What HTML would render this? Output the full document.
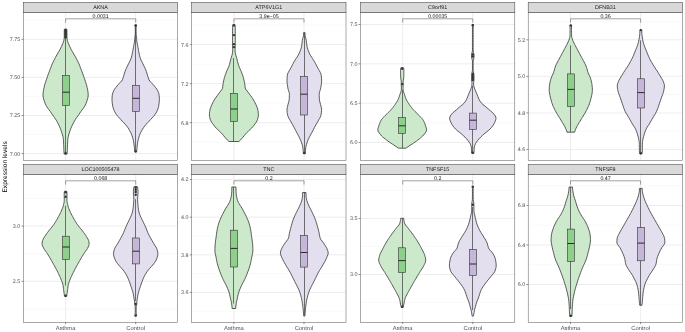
<!DOCTYPE html>
<html><head><meta charset="utf-8"><style>
html,body{margin:0;padding:0;background:#fff;}
svg text{font-family:"Liberation Sans", sans-serif;text-rendering:geometricPrecision;}
svg{will-change:transform;}
</style></head><body>
<svg width="685" height="332" viewBox="0 0 685 332" style="display:block">
<rect width="685" height="332" fill="#fff"/>
<line x1="23.3" x2="177.7" y1="153.6" y2="153.6" stroke="#EBEBEB" stroke-width="0.9"/>
<line x1="23.3" x2="177.7" y1="134.55" y2="134.55" stroke="#F2F2F2" stroke-width="0.5"/>
<line x1="23.3" x2="177.7" y1="115.5" y2="115.5" stroke="#EBEBEB" stroke-width="0.9"/>
<line x1="23.3" x2="177.7" y1="96.45" y2="96.45" stroke="#F2F2F2" stroke-width="0.5"/>
<line x1="23.3" x2="177.7" y1="77.4" y2="77.4" stroke="#EBEBEB" stroke-width="0.9"/>
<line x1="23.3" x2="177.7" y1="58.35" y2="58.35" stroke="#F2F2F2" stroke-width="0.5"/>
<line x1="23.3" x2="177.7" y1="39.3" y2="39.3" stroke="#EBEBEB" stroke-width="0.9"/>
<line x1="23.3" x2="177.7" y1="20.25" y2="20.25" stroke="#F2F2F2" stroke-width="0.5"/>
<line x1="65.6" x2="65.6" y1="12.3" y2="160.3" stroke="#EBEBEB" stroke-width="0.9"/>
<line x1="135.7" x2="135.7" y1="12.3" y2="160.3" stroke="#EBEBEB" stroke-width="0.9"/>
<path d="M66.9,29.2 L66.93,30.78 L66.95,32.36 L66.95,33.94 L66.95,35.52 L66.95,37.1 L67.04,38.68 L67.28,40.26 L67.76,41.84 L68.4,43.42 L69.06,45 L69.76,46.58 L70.52,48.16 L71.32,49.74 L72.22,51.32 L73.18,52.9 L74.1,54.48 L74.97,56.06 L75.83,57.64 L76.66,59.22 L77.49,60.79 L78.29,62.37 L79.02,63.95 L79.65,65.53 L80.22,67.11 L80.8,68.69 L81.41,70.27 L82.04,71.85 L82.64,73.43 L83.21,75.01 L83.76,76.59 L84.29,78.17 L84.82,79.75 L85.36,81.33 L85.91,82.91 L86.41,84.49 L86.82,86.07 L87.16,87.65 L87.5,89.23 L87.8,90.81 L88.04,92.39 L88.18,93.97 L88.18,95.55 L87.99,97.13 L87.64,98.71 L87.17,100.29 L86.62,101.87 L86.03,103.45 L85.36,105.03 L84.45,106.61 L83.37,108.19 L82.2,109.77 L81.04,111.35 L79.95,112.93 L78.87,114.51 L77.75,116.09 L76.64,117.67 L75.57,119.25 L74.59,120.83 L73.72,122.41 L72.91,123.98 L72.14,125.56 L71.42,127.14 L70.77,128.72 L70.2,130.3 L69.67,131.88 L69.15,133.46 L68.67,135.04 L68.26,136.62 L67.95,138.2 L67.78,139.78 L67.68,141.36 L67.61,142.94 L67.55,144.52 L67.49,146.1 L67.43,147.68 L67.36,149.26 L67.27,150.84 L67.19,152.42 L67.1,154 L64.1,154 L64.01,152.42 L63.93,150.84 L63.84,149.26 L63.77,147.68 L63.71,146.1 L63.65,144.52 L63.59,142.94 L63.52,141.36 L63.42,139.78 L63.25,138.2 L62.94,136.62 L62.53,135.04 L62.05,133.46 L61.53,131.88 L61,130.3 L60.43,128.72 L59.78,127.14 L59.06,125.56 L58.29,123.98 L57.48,122.41 L56.61,120.83 L55.63,119.25 L54.56,117.67 L53.45,116.09 L52.33,114.51 L51.25,112.93 L50.16,111.35 L49,109.77 L47.83,108.19 L46.75,106.61 L45.84,105.03 L45.17,103.45 L44.58,101.87 L44.03,100.29 L43.56,98.71 L43.21,97.13 L43.02,95.55 L43.02,93.97 L43.16,92.39 L43.4,90.81 L43.7,89.23 L44.04,87.65 L44.38,86.07 L44.79,84.49 L45.29,82.91 L45.84,81.33 L46.38,79.75 L46.91,78.17 L47.44,76.59 L47.99,75.01 L48.56,73.43 L49.16,71.85 L49.79,70.27 L50.4,68.69 L50.98,67.11 L51.55,65.53 L52.18,63.95 L52.91,62.37 L53.71,60.79 L54.54,59.22 L55.37,57.64 L56.23,56.06 L57.1,54.48 L58.02,52.9 L58.98,51.32 L59.88,49.74 L60.68,48.16 L61.44,46.58 L62.14,45 L62.8,43.42 L63.44,41.84 L63.92,40.26 L64.16,38.68 L64.25,37.1 L64.25,35.52 L64.25,33.94 L64.25,32.36 L64.27,30.78 L64.3,29.2 Z" fill="#CCE9CB" stroke="#333333" stroke-width="0.8"/>
<line x1="65.5" x2="65.5" y1="29.5" y2="152" stroke="#444" stroke-width="0.75"/>
<rect x="62.5" y="75.5" width="7" height="30.1" fill="#8ED08B" stroke="#333333" stroke-width="0.6"/>
<line x1="62.5" x2="69.5" y1="92.2" y2="92.2" stroke="#222" stroke-width="0.95"/>
<circle cx="65.6" cy="30" r="1.2" fill="#333"/>
<circle cx="65.6" cy="31.2" r="1.2" fill="#333"/>
<circle cx="65.6" cy="32.4" r="1.2" fill="#333"/>
<circle cx="65.6" cy="33.6" r="1.2" fill="#333"/>
<circle cx="65.6" cy="34.8" r="1.2" fill="#333"/>
<circle cx="65.6" cy="36" r="1.2" fill="#333"/>
<circle cx="65.6" cy="37.2" r="1.2" fill="#333"/>
<circle cx="65.6" cy="153.2" r="1.2" fill="#333"/>
<path d="M136.5,25 L136.13,26.6 L136.1,28.2 L136.11,29.8 L136.12,31.41 L136.14,33.01 L136.18,34.61 L136.38,36.21 L136.59,37.81 L136.67,39.41 L136.8,41.01 L137.06,42.61 L137.38,44.22 L137.67,45.82 L137.96,47.42 L138.25,49.02 L138.56,50.62 L138.88,52.22 L139.19,53.82 L139.53,55.42 L139.94,57.03 L140.45,58.63 L141.14,60.23 L141.93,61.83 L142.74,63.43 L143.49,65.03 L144.26,66.63 L145.04,68.23 L145.76,69.84 L146.38,71.44 L146.88,73.04 L147.32,74.64 L147.76,76.24 L148.28,77.84 L148.9,79.44 L149.77,81.04 L151.34,82.65 L152.87,84.25 L154.26,85.85 L155.54,87.45 L156.75,89.05 L157.66,90.65 L158.36,92.25 L158.89,93.85 L159.15,95.46 L159.29,97.06 L159.38,98.66 L159.39,100.26 L159.26,101.86 L159.07,103.46 L158.84,105.06 L158.53,106.66 L158.13,108.27 L157.56,109.87 L156.83,111.47 L155.97,113.07 L154.92,114.67 L153.6,116.27 L152.15,117.87 L150.68,119.47 L149.22,121.08 L147.67,122.68 L146.16,124.28 L144.82,125.88 L143.62,127.48 L142.59,129.08 L141.68,130.68 L140.83,132.28 L140.08,133.89 L139.44,135.49 L138.93,137.09 L138.48,138.69 L138.08,140.29 L137.75,141.89 L137.49,143.49 L137.29,145.09 L137.12,146.7 L136.97,148.3 L136.83,149.9 L136.7,151.5 L134.7,151.5 L134.57,149.9 L134.43,148.3 L134.28,146.7 L134.11,145.09 L133.91,143.49 L133.65,141.89 L133.32,140.29 L132.92,138.69 L132.47,137.09 L131.96,135.49 L131.32,133.89 L130.57,132.28 L129.72,130.68 L128.81,129.08 L127.78,127.48 L126.58,125.88 L125.24,124.28 L123.73,122.68 L122.18,121.08 L120.72,119.47 L119.25,117.87 L117.8,116.27 L116.48,114.67 L115.43,113.07 L114.57,111.47 L113.84,109.87 L113.27,108.27 L112.87,106.66 L112.56,105.06 L112.33,103.46 L112.14,101.86 L112.01,100.26 L112.02,98.66 L112.11,97.06 L112.25,95.46 L112.51,93.85 L113.04,92.25 L113.74,90.65 L114.65,89.05 L115.86,87.45 L117.14,85.85 L118.53,84.25 L120.06,82.65 L121.63,81.04 L122.5,79.44 L123.12,77.84 L123.64,76.24 L124.08,74.64 L124.52,73.04 L125.02,71.44 L125.64,69.84 L126.36,68.23 L127.14,66.63 L127.91,65.03 L128.66,63.43 L129.47,61.83 L130.26,60.23 L130.95,58.63 L131.46,57.03 L131.87,55.42 L132.21,53.82 L132.52,52.22 L132.84,50.62 L133.15,49.02 L133.44,47.42 L133.73,45.82 L134.02,44.22 L134.34,42.61 L134.6,41.01 L134.73,39.41 L134.81,37.81 L135.02,36.21 L135.22,34.61 L135.26,33.01 L135.28,31.41 L135.29,29.8 L135.3,28.2 L135.27,26.6 L134.9,25 Z" fill="#E3DFEE" stroke="#333333" stroke-width="0.8"/>
<line x1="135.5" x2="135.5" y1="25" y2="151" stroke="#444" stroke-width="0.75"/>
<rect x="132.5" y="85.4" width="7" height="26.2" fill="#C5B6DA" stroke="#333333" stroke-width="0.6"/>
<line x1="132.5" x2="139.5" y1="98.3" y2="98.3" stroke="#222" stroke-width="0.95"/>
<circle cx="135.7" cy="25.5" r="1.2" fill="#333"/>
<circle cx="135.7" cy="151.5" r="1.2" fill="#333"/>
<rect x="23.3" y="12.3" width="154.4" height="148" fill="none" stroke="#555" stroke-width="0.5"/>
<rect x="23.3" y="2.5" width="154.4" height="9.8" fill="#D9D9D9" stroke="#444" stroke-width="0.55"/>
<text x="100.5" y="8.95" font-size="5.4" fill="#1A1A1A" text-anchor="middle">AKNA</text>
<line x1="21.5" x2="23.3" y1="153.6" y2="153.6" stroke="#333" stroke-width="0.55"/>
<text x="20.3" y="155.55" font-size="5.4" fill="#4D4D4D" text-anchor="end">7.00</text>
<line x1="21.5" x2="23.3" y1="115.5" y2="115.5" stroke="#333" stroke-width="0.55"/>
<text x="20.3" y="117.45" font-size="5.4" fill="#4D4D4D" text-anchor="end">7.25</text>
<line x1="21.5" x2="23.3" y1="77.4" y2="77.4" stroke="#333" stroke-width="0.55"/>
<text x="20.3" y="79.35" font-size="5.4" fill="#4D4D4D" text-anchor="end">7.50</text>
<line x1="21.5" x2="23.3" y1="39.3" y2="39.3" stroke="#333" stroke-width="0.55"/>
<text x="20.3" y="41.25" font-size="5.4" fill="#4D4D4D" text-anchor="end">7.75</text>
<path d="M65.6,22.6 V18.8 H135.7 V22.6" fill="none" stroke="#555" stroke-width="0.55"/>
<text x="100.65" y="17.7" font-size="5.3" fill="#111" text-anchor="middle">0.0031</text>
<line x1="191.6" x2="346" y1="142.1" y2="142.1" stroke="#F2F2F2" stroke-width="0.5"/>
<line x1="191.6" x2="346" y1="122.6" y2="122.6" stroke="#EBEBEB" stroke-width="0.9"/>
<line x1="191.6" x2="346" y1="103.1" y2="103.1" stroke="#F2F2F2" stroke-width="0.5"/>
<line x1="191.6" x2="346" y1="83.6" y2="83.6" stroke="#EBEBEB" stroke-width="0.9"/>
<line x1="191.6" x2="346" y1="64.1" y2="64.1" stroke="#F2F2F2" stroke-width="0.5"/>
<line x1="191.6" x2="346" y1="44.6" y2="44.6" stroke="#EBEBEB" stroke-width="0.9"/>
<line x1="191.6" x2="346" y1="25.1" y2="25.1" stroke="#F2F2F2" stroke-width="0.5"/>
<line x1="233.9" x2="233.9" y1="12.3" y2="160.3" stroke="#EBEBEB" stroke-width="0.9"/>
<line x1="304" x2="304" y1="12.3" y2="160.3" stroke="#EBEBEB" stroke-width="0.9"/>
<path d="M234.9,24.4 L235.11,25.88 L235.21,27.36 L235.25,28.85 L235.28,30.33 L235.3,31.81 L235.3,33.29 L235.3,34.78 L235.3,36.26 L235.3,37.74 L235.3,39.22 L235.3,40.71 L235.3,42.19 L235.3,43.67 L235.29,45.15 L235.23,46.63 L235.15,48.12 L235.1,49.6 L235.13,51.08 L235.24,52.56 L235.51,54.05 L235.92,55.53 L236.38,57.01 L236.82,58.49 L237.2,59.97 L237.56,61.46 L237.93,62.94 L238.34,64.42 L238.8,65.9 L239.39,67.39 L240.05,68.87 L240.74,70.35 L241.38,71.83 L241.94,73.32 L242.47,74.8 L242.98,76.28 L243.43,77.76 L243.81,79.24 L244.14,80.73 L244.43,82.21 L244.69,83.69 L244.91,85.17 L245.07,86.66 L245.23,88.14 L246.01,89.62 L247.22,91.1 L248.32,92.58 L249.45,94.07 L250.55,95.55 L251.62,97.03 L252.62,98.51 L253.52,100 L254.36,101.48 L255.14,102.96 L255.87,104.44 L256.53,105.93 L257.12,107.41 L257.62,108.89 L257.91,110.37 L258.14,111.85 L258.32,113.34 L258.4,114.82 L258.3,116.3 L257.99,117.78 L257.59,119.27 L256.98,120.75 L256.15,122.23 L255.15,123.71 L254.06,125.19 L252.92,126.68 L251.56,128.16 L250.01,129.64 L248.4,131.12 L246.85,132.61 L245.5,134.09 L244.28,135.57 L243.1,137.05 L241.84,138.54 L240.43,140.02 L238.9,141.5 L228.9,141.5 L227.37,140.02 L225.96,138.54 L224.7,137.05 L223.52,135.57 L222.3,134.09 L220.95,132.61 L219.4,131.12 L217.79,129.64 L216.24,128.16 L214.88,126.68 L213.74,125.19 L212.65,123.71 L211.65,122.23 L210.82,120.75 L210.21,119.27 L209.81,117.78 L209.5,116.3 L209.4,114.82 L209.48,113.34 L209.66,111.85 L209.89,110.37 L210.18,108.89 L210.68,107.41 L211.27,105.93 L211.93,104.44 L212.66,102.96 L213.44,101.48 L214.28,100 L215.18,98.51 L216.18,97.03 L217.25,95.55 L218.35,94.07 L219.48,92.58 L220.58,91.1 L221.79,89.62 L222.57,88.14 L222.73,86.66 L222.89,85.17 L223.11,83.69 L223.37,82.21 L223.66,80.73 L223.99,79.24 L224.37,77.76 L224.82,76.28 L225.33,74.8 L225.86,73.32 L226.42,71.83 L227.06,70.35 L227.75,68.87 L228.41,67.39 L229,65.9 L229.46,64.42 L229.87,62.94 L230.24,61.46 L230.6,59.97 L230.98,58.49 L231.42,57.01 L231.88,55.53 L232.29,54.05 L232.56,52.56 L232.67,51.08 L232.7,49.6 L232.65,48.12 L232.57,46.63 L232.51,45.15 L232.5,43.67 L232.5,42.19 L232.5,40.71 L232.5,39.22 L232.5,37.74 L232.5,36.26 L232.5,34.78 L232.5,33.29 L232.5,31.81 L232.52,30.33 L232.55,28.85 L232.59,27.36 L232.69,25.88 L232.9,24.4 Z" fill="#CCE9CB" stroke="#333333" stroke-width="0.8"/>
<line x1="233.5" x2="233.5" y1="58" y2="141.5" stroke="#444" stroke-width="0.75"/>
<rect x="230.5" y="93.3" width="7" height="28.3" fill="#8ED08B" stroke="#333333" stroke-width="0.6"/>
<line x1="230.5" x2="237.5" y1="109" y2="109" stroke="#222" stroke-width="0.95"/>
<circle cx="233.9" cy="25.4" r="1.2" fill="#333"/>
<circle cx="233.9" cy="35.1" r="1.2" fill="#333"/>
<circle cx="233.9" cy="44.1" r="1.2" fill="#333"/>
<circle cx="233.9" cy="47.1" r="1.2" fill="#333"/>
<path d="M305,32.6 L305.03,34.13 L305.11,35.66 L305.44,37.19 L305.92,38.73 L306.23,40.26 L306.43,41.79 L306.61,43.32 L306.8,44.85 L307.04,46.38 L307.39,47.92 L307.86,49.45 L308.44,50.98 L309.08,52.51 L309.77,54.04 L310.59,55.57 L311.55,57.11 L312.58,58.64 L313.58,60.17 L314.48,61.7 L315.32,63.23 L316.14,64.76 L316.93,66.3 L317.71,67.83 L318.52,69.36 L319.44,70.89 L320.31,72.42 L320.96,73.95 L321.26,75.49 L321.43,77.02 L321.54,78.55 L321.6,80.08 L321.57,81.61 L321.44,83.14 L321.25,84.68 L321.01,86.21 L320.75,87.74 L320.45,89.27 L319.96,90.8 L319.46,92.33 L319.2,93.87 L319.22,95.4 L319.27,96.93 L319.34,98.46 L319.46,99.99 L319.75,101.52 L320.17,103.06 L320.62,104.59 L320.98,106.12 L321.3,107.65 L321.55,109.18 L321.58,110.71 L321.45,112.25 L321.22,113.78 L320.92,115.31 L320.42,116.84 L319.61,118.37 L318.7,119.9 L317.86,121.44 L316.99,122.97 L316.11,124.5 L315.25,126.03 L314.43,127.56 L313.64,129.09 L312.86,130.63 L312.06,132.16 L311.21,133.69 L310.36,135.22 L309.57,136.75 L308.84,138.28 L308.14,139.82 L307.51,141.35 L306.98,142.88 L306.49,144.41 L306.06,145.94 L305.76,147.47 L305.58,149.01 L305.44,150.54 L305.34,152.07 L305.3,153.6 L303.3,153.6 L303.26,152.07 L303.16,150.54 L303.02,149.01 L302.84,147.47 L302.54,145.94 L302.11,144.41 L301.62,142.88 L301.09,141.35 L300.46,139.82 L299.76,138.28 L299.03,136.75 L298.24,135.22 L297.39,133.69 L296.54,132.16 L295.74,130.63 L294.96,129.09 L294.17,127.56 L293.35,126.03 L292.49,124.5 L291.61,122.97 L290.74,121.44 L289.9,119.9 L288.99,118.37 L288.18,116.84 L287.68,115.31 L287.38,113.78 L287.15,112.25 L287.02,110.71 L287.05,109.18 L287.3,107.65 L287.62,106.12 L287.98,104.59 L288.43,103.06 L288.85,101.52 L289.14,99.99 L289.26,98.46 L289.33,96.93 L289.38,95.4 L289.4,93.87 L289.14,92.33 L288.64,90.8 L288.15,89.27 L287.85,87.74 L287.59,86.21 L287.35,84.68 L287.16,83.14 L287.03,81.61 L287,80.08 L287.06,78.55 L287.17,77.02 L287.34,75.49 L287.64,73.95 L288.29,72.42 L289.16,70.89 L290.08,69.36 L290.89,67.83 L291.67,66.3 L292.46,64.76 L293.28,63.23 L294.12,61.7 L295.02,60.17 L296.02,58.64 L297.05,57.11 L298.01,55.57 L298.83,54.04 L299.52,52.51 L300.16,50.98 L300.74,49.45 L301.21,47.92 L301.56,46.38 L301.8,44.85 L301.99,43.32 L302.17,41.79 L302.37,40.26 L302.68,38.73 L303.16,37.19 L303.49,35.66 L303.57,34.13 L303.6,32.6 Z" fill="#E3DFEE" stroke="#333333" stroke-width="0.8"/>
<line x1="304.5" x2="304.5" y1="33" y2="152" stroke="#444" stroke-width="0.75"/>
<rect x="300.5" y="76.4" width="7" height="38.6" fill="#C5B6DA" stroke="#333333" stroke-width="0.6"/>
<line x1="300.5" x2="307.5" y1="94.2" y2="94.2" stroke="#222" stroke-width="0.95"/>
<circle cx="304.3" cy="153" r="1.2" fill="#333"/>
<rect x="191.6" y="12.3" width="154.4" height="148" fill="none" stroke="#555" stroke-width="0.5"/>
<rect x="191.6" y="2.5" width="154.4" height="9.8" fill="#D9D9D9" stroke="#444" stroke-width="0.55"/>
<text x="268.8" y="8.95" font-size="5.4" fill="#1A1A1A" text-anchor="middle">ATP6V1G1</text>
<line x1="189.8" x2="191.6" y1="122.6" y2="122.6" stroke="#333" stroke-width="0.55"/>
<text x="188.6" y="124.55" font-size="5.4" fill="#4D4D4D" text-anchor="end">6.8</text>
<line x1="189.8" x2="191.6" y1="83.6" y2="83.6" stroke="#333" stroke-width="0.55"/>
<text x="188.6" y="85.55" font-size="5.4" fill="#4D4D4D" text-anchor="end">7.2</text>
<line x1="189.8" x2="191.6" y1="44.6" y2="44.6" stroke="#333" stroke-width="0.55"/>
<text x="188.6" y="46.55" font-size="5.4" fill="#4D4D4D" text-anchor="end">7.6</text>
<path d="M233.9,22.6 V18.8 H304 V22.6" fill="none" stroke="#555" stroke-width="0.55"/>
<text x="268.95" y="17.7" font-size="5.3" fill="#111" text-anchor="middle">3.9e−05</text>
<line x1="360.4" x2="514.8" y1="142.5" y2="142.5" stroke="#EBEBEB" stroke-width="0.9"/>
<line x1="360.4" x2="514.8" y1="122.84" y2="122.84" stroke="#F2F2F2" stroke-width="0.5"/>
<line x1="360.4" x2="514.8" y1="103.17" y2="103.17" stroke="#EBEBEB" stroke-width="0.9"/>
<line x1="360.4" x2="514.8" y1="83.5" y2="83.5" stroke="#F2F2F2" stroke-width="0.5"/>
<line x1="360.4" x2="514.8" y1="63.84" y2="63.84" stroke="#EBEBEB" stroke-width="0.9"/>
<line x1="360.4" x2="514.8" y1="44.17" y2="44.17" stroke="#F2F2F2" stroke-width="0.5"/>
<line x1="360.4" x2="514.8" y1="24.5" y2="24.5" stroke="#EBEBEB" stroke-width="0.9"/>
<line x1="402.7" x2="402.7" y1="12.3" y2="160.3" stroke="#EBEBEB" stroke-width="0.9"/>
<line x1="472.8" x2="472.8" y1="12.3" y2="160.3" stroke="#EBEBEB" stroke-width="0.9"/>
<path d="M403.5,67.7 L403.76,68.72 L403.85,69.74 L403.85,70.76 L403.85,71.78 L403.85,72.79 L403.85,73.81 L403.85,74.83 L403.83,75.85 L403.76,76.87 L403.67,77.89 L403.56,78.91 L403.34,79.93 L403.14,80.95 L403.11,81.97 L403.15,82.98 L403.19,84 L403.19,85.02 L403.12,86.04 L403.04,87.06 L403,88.08 L403.04,89.1 L403.11,90.12 L403.29,91.14 L403.59,92.16 L403.96,93.17 L404.36,94.19 L404.74,95.21 L405.06,96.23 L405.37,97.25 L405.72,98.27 L406.13,99.29 L406.64,100.31 L407.24,101.33 L407.88,102.35 L408.53,103.36 L409.21,104.38 L409.94,105.4 L410.69,106.42 L411.47,107.44 L412.27,108.46 L413.13,109.48 L414.05,110.5 L415.06,111.52 L416.12,112.54 L417.15,113.55 L418.19,114.57 L419.23,115.59 L420.24,116.61 L421.2,117.63 L422.14,118.65 L422.92,119.67 L423.5,120.69 L424.01,121.71 L424.46,122.73 L424.87,123.74 L425.24,124.76 L425.57,125.78 L425.89,126.8 L426.23,127.82 L426.5,128.84 L426.6,129.86 L426.4,130.88 L425.92,131.9 L425.23,132.92 L424.43,133.93 L423.6,134.95 L422.73,135.97 L421.67,136.99 L420.46,138.01 L419.16,139.03 L417.82,140.05 L416.48,141.07 L415.06,142.09 L413.56,143.11 L412.01,144.12 L410.45,145.14 L408.91,146.16 L407.36,147.18 L405.8,148.2 L398.6,148.2 L397.04,147.18 L395.49,146.16 L393.95,145.14 L392.39,144.12 L390.84,143.11 L389.34,142.09 L387.92,141.07 L386.58,140.05 L385.24,139.03 L383.94,138.01 L382.73,136.99 L381.67,135.97 L380.8,134.95 L379.97,133.93 L379.17,132.92 L378.48,131.9 L378,130.88 L377.8,129.86 L377.9,128.84 L378.17,127.82 L378.51,126.8 L378.83,125.78 L379.16,124.76 L379.53,123.74 L379.94,122.73 L380.39,121.71 L380.9,120.69 L381.48,119.67 L382.26,118.65 L383.2,117.63 L384.16,116.61 L385.17,115.59 L386.21,114.57 L387.25,113.55 L388.28,112.54 L389.34,111.52 L390.35,110.5 L391.27,109.48 L392.13,108.46 L392.93,107.44 L393.71,106.42 L394.46,105.4 L395.19,104.38 L395.87,103.36 L396.52,102.35 L397.16,101.33 L397.76,100.31 L398.27,99.29 L398.68,98.27 L399.03,97.25 L399.34,96.23 L399.66,95.21 L400.04,94.19 L400.44,93.17 L400.81,92.16 L401.11,91.14 L401.29,90.12 L401.36,89.1 L401.4,88.08 L401.36,87.06 L401.28,86.04 L401.21,85.02 L401.21,84 L401.25,82.98 L401.29,81.97 L401.26,80.95 L401.06,79.93 L400.84,78.91 L400.73,77.89 L400.64,76.87 L400.57,75.85 L400.55,74.83 L400.55,73.81 L400.55,72.79 L400.55,71.78 L400.55,70.76 L400.55,69.74 L400.64,68.72 L400.9,67.7 Z" fill="#CCE9CB" stroke="#333333" stroke-width="0.8"/>
<line x1="402.5" x2="402.5" y1="90" y2="148" stroke="#444" stroke-width="0.75"/>
<rect x="398.5" y="117.5" width="7" height="15.9" fill="#8ED08B" stroke="#333333" stroke-width="0.6"/>
<line x1="398.5" x2="405.5" y1="125.8" y2="125.8" stroke="#222" stroke-width="0.95"/>
<circle cx="402.2" cy="68.8" r="1.2" fill="#333"/>
<circle cx="402.2" cy="84.1" r="1.2" fill="#333"/>
<path d="M473.4,24.6 L473.19,26.23 L473.15,27.86 L473.15,29.49 L473.15,31.13 L473.15,32.76 L473.15,34.39 L473.15,36.02 L473.15,37.65 L473.15,39.28 L473.15,40.92 L473.15,42.55 L473.15,44.18 L473.15,45.81 L473.15,47.44 L473.15,49.07 L473.15,50.71 L473.46,52.34 L473.92,53.97 L474.09,55.6 L474.02,57.23 L473.7,58.86 L473.15,60.5 L473.15,62.13 L473.15,63.76 L473.15,65.39 L473.15,67.02 L473.15,68.65 L473.15,70.29 L473.43,71.92 L473.78,73.55 L473.97,75.18 L474,76.81 L474,78.44 L474,80.08 L473.76,81.71 L473.6,83.34 L473.7,84.97 L473.91,86.6 L474.47,88.23 L475.09,89.87 L475.8,91.5 L476.49,93.13 L477.17,94.76 L477.84,96.39 L478.46,98.02 L479.18,99.66 L480.09,101.29 L481.25,102.92 L482.96,104.55 L485.07,106.18 L486.99,107.81 L488.84,109.45 L490.72,111.08 L492.69,112.71 L494.12,114.34 L495.26,115.97 L495.95,117.6 L495.88,119.24 L495.37,120.87 L494.63,122.5 L493.83,124.13 L492.8,125.76 L491.52,127.39 L490.08,129.03 L488.29,130.66 L486.2,132.29 L484.14,133.92 L482.34,135.55 L480.6,137.18 L479.02,138.82 L477.7,140.45 L476.48,142.08 L475.44,143.71 L474.76,145.34 L474.33,146.97 L474.17,148.61 L474.13,150.24 L474.03,151.87 L473.8,153.5 L471.8,153.5 L471.57,151.87 L471.47,150.24 L471.43,148.61 L471.27,146.97 L470.84,145.34 L470.16,143.71 L469.12,142.08 L467.9,140.45 L466.58,138.82 L465,137.18 L463.26,135.55 L461.46,133.92 L459.4,132.29 L457.31,130.66 L455.52,129.03 L454.08,127.39 L452.8,125.76 L451.77,124.13 L450.97,122.5 L450.23,120.87 L449.72,119.24 L449.65,117.6 L450.34,115.97 L451.48,114.34 L452.91,112.71 L454.88,111.08 L456.76,109.45 L458.61,107.81 L460.53,106.18 L462.64,104.55 L464.35,102.92 L465.51,101.29 L466.42,99.66 L467.14,98.02 L467.76,96.39 L468.43,94.76 L469.11,93.13 L469.8,91.5 L470.51,89.87 L471.13,88.23 L471.69,86.6 L471.9,84.97 L472,83.34 L471.84,81.71 L471.6,80.08 L471.6,78.44 L471.6,76.81 L471.63,75.18 L471.82,73.55 L472.17,71.92 L472.45,70.29 L472.45,68.65 L472.45,67.02 L472.45,65.39 L472.45,63.76 L472.45,62.13 L472.45,60.5 L471.9,58.86 L471.58,57.23 L471.51,55.6 L471.68,53.97 L472.14,52.34 L472.45,50.71 L472.45,49.07 L472.45,47.44 L472.45,45.81 L472.45,44.18 L472.45,42.55 L472.45,40.92 L472.45,39.28 L472.45,37.65 L472.45,36.02 L472.45,34.39 L472.45,32.76 L472.45,31.13 L472.45,29.49 L472.45,27.86 L472.41,26.23 L472.2,24.6 Z" fill="#E3DFEE" stroke="#333333" stroke-width="0.8"/>
<line x1="472.5" x2="472.5" y1="86" y2="153" stroke="#444" stroke-width="0.75"/>
<rect x="469.5" y="113.1" width="7" height="16.4" fill="#C5B6DA" stroke="#333333" stroke-width="0.6"/>
<line x1="469.5" x2="476.5" y1="120.2" y2="120.2" stroke="#222" stroke-width="0.95"/>
<circle cx="472.8" cy="25.2" r="1.2" fill="#333"/>
<circle cx="472.8" cy="54.5" r="1.2" fill="#333"/>
<circle cx="472.8" cy="56.5" r="1.2" fill="#333"/>
<circle cx="472.8" cy="74" r="1.2" fill="#333"/>
<circle cx="472.8" cy="76" r="1.2" fill="#333"/>
<circle cx="472.8" cy="78" r="1.2" fill="#333"/>
<circle cx="472.8" cy="80" r="1.2" fill="#333"/>
<circle cx="472.8" cy="152.6" r="1.2" fill="#333"/>
<rect x="360.4" y="12.3" width="154.4" height="148" fill="none" stroke="#555" stroke-width="0.5"/>
<rect x="360.4" y="2.5" width="154.4" height="9.8" fill="#D9D9D9" stroke="#444" stroke-width="0.55"/>
<text x="437.6" y="8.95" font-size="5.4" fill="#1A1A1A" text-anchor="middle">C9orf91</text>
<line x1="358.6" x2="360.4" y1="142.5" y2="142.5" stroke="#333" stroke-width="0.55"/>
<text x="357.4" y="144.45" font-size="5.4" fill="#4D4D4D" text-anchor="end">6.0</text>
<line x1="358.6" x2="360.4" y1="103.17" y2="103.17" stroke="#333" stroke-width="0.55"/>
<text x="357.4" y="105.12" font-size="5.4" fill="#4D4D4D" text-anchor="end">6.5</text>
<line x1="358.6" x2="360.4" y1="63.84" y2="63.84" stroke="#333" stroke-width="0.55"/>
<text x="357.4" y="65.78" font-size="5.4" fill="#4D4D4D" text-anchor="end">7.0</text>
<line x1="358.6" x2="360.4" y1="24.5" y2="24.5" stroke="#333" stroke-width="0.55"/>
<text x="357.4" y="26.45" font-size="5.4" fill="#4D4D4D" text-anchor="end">7.5</text>
<path d="M402.7,22.6 V18.8 H472.8 V22.6" fill="none" stroke="#555" stroke-width="0.55"/>
<text x="437.75" y="17.7" font-size="5.3" fill="#111" text-anchor="middle">0.00035</text>
<line x1="528.2" x2="682.6" y1="149.48" y2="149.48" stroke="#EBEBEB" stroke-width="0.9"/>
<line x1="528.2" x2="682.6" y1="131.2" y2="131.2" stroke="#F2F2F2" stroke-width="0.5"/>
<line x1="528.2" x2="682.6" y1="112.92" y2="112.92" stroke="#EBEBEB" stroke-width="0.9"/>
<line x1="528.2" x2="682.6" y1="94.64" y2="94.64" stroke="#F2F2F2" stroke-width="0.5"/>
<line x1="528.2" x2="682.6" y1="76.36" y2="76.36" stroke="#EBEBEB" stroke-width="0.9"/>
<line x1="528.2" x2="682.6" y1="58.08" y2="58.08" stroke="#F2F2F2" stroke-width="0.5"/>
<line x1="528.2" x2="682.6" y1="39.8" y2="39.8" stroke="#EBEBEB" stroke-width="0.9"/>
<line x1="528.2" x2="682.6" y1="21.52" y2="21.52" stroke="#F2F2F2" stroke-width="0.5"/>
<line x1="570.5" x2="570.5" y1="12.3" y2="160.3" stroke="#EBEBEB" stroke-width="0.9"/>
<line x1="640.6" x2="640.6" y1="12.3" y2="160.3" stroke="#EBEBEB" stroke-width="0.9"/>
<path d="M571.8,25.4 L571.6,26.75 L571.5,28.1 L571.5,29.46 L571.51,30.81 L571.53,32.16 L571.55,33.51 L571.57,34.86 L571.61,36.22 L571.84,37.57 L572.27,38.92 L572.76,40.27 L573.28,41.62 L573.93,42.97 L574.63,44.33 L575.34,45.68 L576.03,47.03 L576.74,48.38 L577.46,49.73 L578.19,51.09 L578.91,52.44 L579.65,53.79 L580.39,55.14 L581.14,56.49 L581.87,57.85 L582.59,59.2 L583.31,60.55 L584.04,61.9 L584.75,63.25 L585.42,64.61 L586,65.96 L586.49,67.31 L586.91,68.66 L587.3,70.01 L587.69,71.36 L588.13,72.72 L588.68,74.07 L589.31,75.42 L589.93,76.77 L590.44,78.12 L590.87,79.48 L591.26,80.83 L591.59,82.18 L591.82,83.53 L591.99,84.88 L592.16,86.24 L592.29,87.59 L592.37,88.94 L592.4,90.29 L592.32,91.64 L592.13,92.99 L591.88,94.35 L591.58,95.7 L591.29,97.05 L590.98,98.4 L590.63,99.75 L590.24,101.11 L589.82,102.46 L589.36,103.81 L588.86,105.16 L588.29,106.51 L587.68,107.87 L587.04,109.22 L586.36,110.57 L585.64,111.92 L584.86,113.27 L584.04,114.63 L583.21,115.98 L582.38,117.33 L581.56,118.68 L580.73,120.03 L579.89,121.38 L579.08,122.74 L578.25,124.09 L577.43,125.44 L576.7,126.79 L576.08,128.14 L575.52,129.5 L575.02,130.85 L574.6,132.2 L567,132.2 L566.58,130.85 L566.08,129.5 L565.52,128.14 L564.9,126.79 L564.17,125.44 L563.35,124.09 L562.52,122.74 L561.71,121.38 L560.87,120.03 L560.04,118.68 L559.22,117.33 L558.39,115.98 L557.56,114.63 L556.74,113.27 L555.96,111.92 L555.24,110.57 L554.56,109.22 L553.92,107.87 L553.31,106.51 L552.74,105.16 L552.24,103.81 L551.78,102.46 L551.36,101.11 L550.97,99.75 L550.62,98.4 L550.31,97.05 L550.02,95.7 L549.72,94.35 L549.47,92.99 L549.28,91.64 L549.2,90.29 L549.23,88.94 L549.31,87.59 L549.44,86.24 L549.61,84.88 L549.78,83.53 L550.01,82.18 L550.34,80.83 L550.73,79.48 L551.16,78.12 L551.67,76.77 L552.29,75.42 L552.92,74.07 L553.47,72.72 L553.91,71.36 L554.3,70.01 L554.69,68.66 L555.11,67.31 L555.6,65.96 L556.18,64.61 L556.85,63.25 L557.56,61.9 L558.29,60.55 L559.01,59.2 L559.73,57.85 L560.46,56.49 L561.21,55.14 L561.95,53.79 L562.69,52.44 L563.41,51.09 L564.14,49.73 L564.86,48.38 L565.57,47.03 L566.26,45.68 L566.97,44.33 L567.67,42.97 L568.32,41.62 L568.84,40.27 L569.33,38.92 L569.76,37.57 L569.99,36.22 L570.03,34.86 L570.05,33.51 L570.07,32.16 L570.09,30.81 L570.1,29.46 L570.1,28.1 L570,26.75 L569.8,25.4 Z" fill="#CCE9CB" stroke="#333333" stroke-width="0.8"/>
<line x1="570.5" x2="570.5" y1="45.3" y2="132" stroke="#444" stroke-width="0.75"/>
<rect x="567.5" y="73.9" width="7" height="32.5" fill="#8ED08B" stroke="#333333" stroke-width="0.6"/>
<line x1="567.5" x2="574.5" y1="89.4" y2="89.4" stroke="#222" stroke-width="0.95"/>
<circle cx="570.8" cy="25.4" r="1.2" fill="#333"/>
<path d="M641.85,30.1 L641.85,31.67 L641.85,33.23 L641.99,34.8 L642.19,36.36 L642.4,37.93 L642.66,39.49 L642.98,41.06 L643.39,42.63 L643.86,44.19 L644.37,45.76 L644.94,47.32 L645.57,48.89 L646.21,50.46 L646.83,52.02 L647.45,53.59 L648.08,55.15 L648.75,56.72 L649.48,58.28 L650.28,59.85 L651.13,61.42 L652.02,62.98 L652.94,64.55 L653.91,66.11 L654.94,67.68 L655.98,69.25 L657,70.81 L657.99,72.38 L658.96,73.94 L659.92,75.51 L660.86,77.07 L661.8,78.64 L662.71,80.21 L663.39,81.77 L663.93,83.34 L664.4,84.9 L664.41,86.47 L664.23,88.04 L663.97,89.6 L663.68,91.17 L663.25,92.73 L662.69,94.3 L662.09,95.86 L661.51,97.43 L660.98,99 L660.46,100.56 L659.93,102.13 L659.4,103.69 L658.85,105.26 L658.32,106.83 L657.77,108.39 L657.18,109.96 L656.5,111.52 L655.68,113.09 L654.74,114.65 L653.77,116.22 L652.82,117.79 L651.92,119.35 L651.04,120.92 L650.16,122.48 L649.24,124.05 L648.25,125.62 L647.16,127.18 L646.29,128.75 L645.6,130.31 L644.99,131.88 L644.46,133.44 L644,135.01 L643.6,136.58 L643.21,138.14 L642.86,139.71 L642.59,141.27 L642.45,142.84 L642.41,144.41 L642.38,145.97 L642.36,147.54 L642.33,149.1 L642.31,150.67 L642.26,152.23 L641.95,153.8 L639.75,153.8 L639.44,152.23 L639.39,150.67 L639.37,149.1 L639.34,147.54 L639.32,145.97 L639.29,144.41 L639.25,142.84 L639.11,141.27 L638.84,139.71 L638.49,138.14 L638.1,136.58 L637.7,135.01 L637.24,133.44 L636.71,131.88 L636.1,130.31 L635.41,128.75 L634.54,127.18 L633.45,125.62 L632.46,124.05 L631.54,122.48 L630.66,120.92 L629.78,119.35 L628.88,117.79 L627.93,116.22 L626.96,114.65 L626.02,113.09 L625.2,111.52 L624.52,109.96 L623.93,108.39 L623.38,106.83 L622.85,105.26 L622.3,103.69 L621.77,102.13 L621.24,100.56 L620.72,99 L620.19,97.43 L619.61,95.86 L619.01,94.3 L618.45,92.73 L618.02,91.17 L617.73,89.6 L617.47,88.04 L617.29,86.47 L617.3,84.9 L617.77,83.34 L618.31,81.77 L618.99,80.21 L619.9,78.64 L620.84,77.07 L621.78,75.51 L622.74,73.94 L623.71,72.38 L624.7,70.81 L625.72,69.25 L626.76,67.68 L627.79,66.11 L628.76,64.55 L629.68,62.98 L630.57,61.42 L631.42,59.85 L632.22,58.28 L632.95,56.72 L633.62,55.15 L634.25,53.59 L634.87,52.02 L635.49,50.46 L636.13,48.89 L636.76,47.32 L637.33,45.76 L637.84,44.19 L638.31,42.63 L638.72,41.06 L639.04,39.49 L639.3,37.93 L639.51,36.36 L639.71,34.8 L639.85,33.23 L639.85,31.67 L639.85,30.1 Z" fill="#E3DFEE" stroke="#333333" stroke-width="0.8"/>
<line x1="640.5" x2="640.5" y1="40.4" y2="152" stroke="#444" stroke-width="0.75"/>
<rect x="637.5" y="78.8" width="7" height="29.2" fill="#C5B6DA" stroke="#333333" stroke-width="0.6"/>
<line x1="637.5" x2="644.5" y1="92.6" y2="92.6" stroke="#222" stroke-width="0.95"/>
<circle cx="640.85" cy="30.1" r="1.2" fill="#333"/>
<circle cx="640.85" cy="153.3" r="1.2" fill="#333"/>
<rect x="528.2" y="12.3" width="154.4" height="148" fill="none" stroke="#555" stroke-width="0.5"/>
<rect x="528.2" y="2.5" width="154.4" height="9.8" fill="#D9D9D9" stroke="#444" stroke-width="0.55"/>
<text x="605.4" y="8.95" font-size="5.4" fill="#1A1A1A" text-anchor="middle">DFNB31</text>
<line x1="526.4" x2="528.2" y1="149.48" y2="149.48" stroke="#333" stroke-width="0.55"/>
<text x="525.2" y="151.43" font-size="5.4" fill="#4D4D4D" text-anchor="end">4.6</text>
<line x1="526.4" x2="528.2" y1="112.92" y2="112.92" stroke="#333" stroke-width="0.55"/>
<text x="525.2" y="114.87" font-size="5.4" fill="#4D4D4D" text-anchor="end">4.8</text>
<line x1="526.4" x2="528.2" y1="76.36" y2="76.36" stroke="#333" stroke-width="0.55"/>
<text x="525.2" y="78.31" font-size="5.4" fill="#4D4D4D" text-anchor="end">5.0</text>
<line x1="526.4" x2="528.2" y1="39.8" y2="39.8" stroke="#333" stroke-width="0.55"/>
<text x="525.2" y="41.75" font-size="5.4" fill="#4D4D4D" text-anchor="end">5.2</text>
<path d="M570.5,22.6 V18.8 H640.6 V22.6" fill="none" stroke="#555" stroke-width="0.55"/>
<text x="605.55" y="17.7" font-size="5.3" fill="#111" text-anchor="middle">0.36</text>
<line x1="23.3" x2="177.7" y1="308.9" y2="308.9" stroke="#F2F2F2" stroke-width="0.5"/>
<line x1="23.3" x2="177.7" y1="281.3" y2="281.3" stroke="#EBEBEB" stroke-width="0.9"/>
<line x1="23.3" x2="177.7" y1="253.7" y2="253.7" stroke="#F2F2F2" stroke-width="0.5"/>
<line x1="23.3" x2="177.7" y1="226.1" y2="226.1" stroke="#EBEBEB" stroke-width="0.9"/>
<line x1="23.3" x2="177.7" y1="198.5" y2="198.5" stroke="#F2F2F2" stroke-width="0.5"/>
<line x1="65.6" x2="65.6" y1="174.3" y2="322.3" stroke="#EBEBEB" stroke-width="0.9"/>
<line x1="135.7" x2="135.7" y1="174.3" y2="322.3" stroke="#EBEBEB" stroke-width="0.9"/>
<path d="M66.8,191.3 L66.99,192.63 L67,193.96 L67,195.29 L67,196.62 L66.98,197.95 L66.91,199.27 L66.92,200.6 L67.06,201.93 L67.31,203.26 L67.61,204.59 L67.93,205.92 L68.35,207.25 L68.86,208.58 L69.42,209.91 L69.99,211.24 L70.59,212.57 L71.24,213.89 L71.92,215.22 L72.63,216.55 L73.35,217.88 L74.09,219.21 L74.86,220.54 L75.66,221.87 L76.5,223.2 L77.39,224.53 L78.37,225.86 L79.45,227.19 L80.56,228.52 L81.65,229.84 L82.68,231.17 L83.66,232.5 L84.64,233.83 L85.58,235.16 L86.46,236.49 L87.25,237.82 L88.03,239.15 L88.67,240.48 L88.92,241.81 L89.07,243.14 L89.07,244.46 L88.7,245.79 L88.08,247.12 L87.43,248.45 L86.62,249.78 L85.67,251.11 L84.69,252.44 L83.79,253.77 L82.97,255.1 L82.16,256.43 L81.38,257.76 L80.6,259.08 L79.83,260.41 L79.07,261.74 L78.32,263.07 L77.57,264.4 L76.84,265.73 L76.12,267.06 L75.41,268.39 L74.71,269.72 L74.02,271.05 L73.34,272.38 L72.69,273.71 L72.06,275.03 L71.44,276.36 L70.83,277.69 L70.26,279.02 L69.73,280.35 L69.23,281.68 L68.76,283.01 L68.38,284.34 L68.13,285.67 L67.94,287 L67.78,288.33 L67.62,289.65 L67.44,290.98 L67.25,292.31 L67.05,293.64 L66.87,294.97 L66.7,296.3 L64.5,296.3 L64.33,294.97 L64.15,293.64 L63.95,292.31 L63.76,290.98 L63.58,289.65 L63.42,288.33 L63.26,287 L63.07,285.67 L62.82,284.34 L62.44,283.01 L61.97,281.68 L61.47,280.35 L60.94,279.02 L60.37,277.69 L59.76,276.36 L59.14,275.03 L58.51,273.71 L57.86,272.38 L57.18,271.05 L56.49,269.72 L55.79,268.39 L55.08,267.06 L54.36,265.73 L53.63,264.4 L52.88,263.07 L52.13,261.74 L51.37,260.41 L50.6,259.08 L49.82,257.76 L49.04,256.43 L48.23,255.1 L47.41,253.77 L46.51,252.44 L45.53,251.11 L44.58,249.78 L43.77,248.45 L43.12,247.12 L42.5,245.79 L42.13,244.46 L42.13,243.14 L42.28,241.81 L42.53,240.48 L43.17,239.15 L43.95,237.82 L44.74,236.49 L45.62,235.16 L46.56,233.83 L47.54,232.5 L48.52,231.17 L49.55,229.84 L50.64,228.52 L51.75,227.19 L52.83,225.86 L53.81,224.53 L54.7,223.2 L55.54,221.87 L56.34,220.54 L57.11,219.21 L57.85,217.88 L58.57,216.55 L59.28,215.22 L59.96,213.89 L60.61,212.57 L61.21,211.24 L61.78,209.91 L62.34,208.58 L62.85,207.25 L63.27,205.92 L63.59,204.59 L63.89,203.26 L64.14,201.93 L64.28,200.6 L64.29,199.27 L64.22,197.95 L64.2,196.62 L64.2,195.29 L64.2,193.96 L64.21,192.63 L64.4,191.3 Z" fill="#CCE9CB" stroke="#333333" stroke-width="0.8"/>
<line x1="65.5" x2="65.5" y1="205.8" y2="285.5" stroke="#444" stroke-width="0.75"/>
<rect x="62.5" y="236.2" width="7" height="23.2" fill="#8ED08B" stroke="#333333" stroke-width="0.6"/>
<line x1="62.5" x2="69.5" y1="247" y2="247" stroke="#222" stroke-width="0.95"/>
<circle cx="65.6" cy="192.2" r="1.2" fill="#333"/>
<circle cx="65.6" cy="196.8" r="1.2" fill="#333"/>
<circle cx="65.6" cy="295.8" r="1.2" fill="#333"/>
<path d="M137.2,186.5 L137.81,188.14 L137.94,189.77 L138,191.41 L137.98,193.04 L137.92,194.68 L137.76,196.31 L137.6,197.95 L137.6,199.58 L137.63,201.22 L137.75,202.85 L137.91,204.49 L138.07,206.13 L138.25,207.76 L138.47,209.4 L138.74,211.03 L139.16,212.67 L139.69,214.3 L140.31,215.94 L141.06,217.57 L141.87,219.21 L142.66,220.84 L143.44,222.48 L144.22,224.12 L144.99,225.75 L145.72,227.39 L146.4,229.02 L147.04,230.66 L147.69,232.29 L148.41,233.93 L149.23,235.56 L150.12,237.2 L151.04,238.83 L151.97,240.47 L152.89,242.11 L153.83,243.74 L154.84,245.38 L155.98,247.01 L156.78,248.65 L157.31,250.28 L157.71,251.92 L157.9,253.55 L157.77,255.19 L157.37,256.82 L156.81,258.46 L156.16,260.09 L155.19,261.73 L154.01,263.37 L152.77,265 L151.33,266.64 L149.77,268.27 L148.35,269.91 L147.15,271.54 L146.06,273.18 L145.07,274.81 L144.22,276.45 L143.46,278.08 L142.77,279.72 L142.13,281.36 L141.54,282.99 L140.99,284.63 L140.45,286.26 L139.89,287.9 L139.35,289.53 L138.85,291.17 L138.4,292.8 L138.01,294.44 L137.72,296.07 L137.49,297.71 L137.26,299.35 L136.93,300.98 L136.8,302.62 L136.77,304.25 L136.21,305.89 L136.18,307.52 L136.16,309.16 L136.15,310.79 L136.15,312.43 L136.25,314.06 L136.6,315.7 L134.8,315.7 L135.15,314.06 L135.25,312.43 L135.25,310.79 L135.24,309.16 L135.22,307.52 L135.19,305.89 L134.63,304.25 L134.6,302.62 L134.47,300.98 L134.14,299.35 L133.91,297.71 L133.68,296.07 L133.39,294.44 L133,292.8 L132.55,291.17 L132.05,289.53 L131.51,287.9 L130.95,286.26 L130.41,284.63 L129.86,282.99 L129.27,281.36 L128.63,279.72 L127.94,278.08 L127.18,276.45 L126.33,274.81 L125.34,273.18 L124.25,271.54 L123.05,269.91 L121.63,268.27 L120.07,266.64 L118.63,265 L117.39,263.37 L116.21,261.73 L115.24,260.09 L114.59,258.46 L114.03,256.82 L113.63,255.19 L113.5,253.55 L113.69,251.92 L114.09,250.28 L114.62,248.65 L115.42,247.01 L116.56,245.38 L117.57,243.74 L118.51,242.11 L119.43,240.47 L120.36,238.83 L121.28,237.2 L122.17,235.56 L122.99,233.93 L123.71,232.29 L124.36,230.66 L125,229.02 L125.68,227.39 L126.41,225.75 L127.18,224.12 L127.96,222.48 L128.74,220.84 L129.53,219.21 L130.34,217.57 L131.09,215.94 L131.71,214.3 L132.24,212.67 L132.66,211.03 L132.93,209.4 L133.15,207.76 L133.33,206.13 L133.49,204.49 L133.65,202.85 L133.77,201.22 L133.8,199.58 L133.8,197.95 L133.64,196.31 L133.48,194.68 L133.42,193.04 L133.4,191.41 L133.46,189.77 L133.59,188.14 L134.2,186.5 Z" fill="#E3DFEE" stroke="#333333" stroke-width="0.8"/>
<line x1="135.5" x2="135.5" y1="199.2" y2="301" stroke="#444" stroke-width="0.75"/>
<rect x="132.5" y="238" width="7" height="25.9" fill="#C5B6DA" stroke="#333333" stroke-width="0.6"/>
<line x1="132.5" x2="139.5" y1="251.2" y2="251.2" stroke="#222" stroke-width="0.95"/>
<circle cx="135.7" cy="187.8" r="1.2" fill="#333"/>
<circle cx="135.7" cy="189.8" r="1.2" fill="#333"/>
<circle cx="135.7" cy="192" r="1.2" fill="#333"/>
<circle cx="135.7" cy="194.7" r="1.2" fill="#333"/>
<circle cx="135.7" cy="304" r="1.2" fill="#333"/>
<circle cx="135.7" cy="315.6" r="1.2" fill="#333"/>
<rect x="23.3" y="174.3" width="154.4" height="148" fill="none" stroke="#555" stroke-width="0.5"/>
<rect x="23.3" y="164.5" width="154.4" height="9.8" fill="#D9D9D9" stroke="#444" stroke-width="0.55"/>
<text x="100.5" y="170.95" font-size="5.4" fill="#1A1A1A" text-anchor="middle">LOC100505478</text>
<line x1="21.5" x2="23.3" y1="281.3" y2="281.3" stroke="#333" stroke-width="0.55"/>
<text x="20.3" y="283.25" font-size="5.4" fill="#4D4D4D" text-anchor="end">2.5</text>
<line x1="21.5" x2="23.3" y1="226.1" y2="226.1" stroke="#333" stroke-width="0.55"/>
<text x="20.3" y="228.05" font-size="5.4" fill="#4D4D4D" text-anchor="end">3.0</text>
<path d="M65.6,184.6 V180.8 H135.7 V184.6" fill="none" stroke="#555" stroke-width="0.55"/>
<text x="100.65" y="179.7" font-size="5.3" fill="#111" text-anchor="middle">0.068</text>
<line x1="65.6" x2="65.6" y1="322.3" y2="324.1" stroke="#333" stroke-width="0.55"/>
<text x="65.6" y="329.5" font-size="5.8" fill="#4D4D4D" text-anchor="middle">Asthma</text>
<line x1="135.7" x2="135.7" y1="322.3" y2="324.1" stroke="#333" stroke-width="0.55"/>
<text x="135.7" y="329.5" font-size="5.8" fill="#4D4D4D" text-anchor="middle">Control</text>
<line x1="191.6" x2="346" y1="311.31" y2="311.31" stroke="#F2F2F2" stroke-width="0.5"/>
<line x1="191.6" x2="346" y1="292.48" y2="292.48" stroke="#EBEBEB" stroke-width="0.9"/>
<line x1="191.6" x2="346" y1="273.65" y2="273.65" stroke="#F2F2F2" stroke-width="0.5"/>
<line x1="191.6" x2="346" y1="254.82" y2="254.82" stroke="#EBEBEB" stroke-width="0.9"/>
<line x1="191.6" x2="346" y1="235.99" y2="235.99" stroke="#F2F2F2" stroke-width="0.5"/>
<line x1="191.6" x2="346" y1="217.16" y2="217.16" stroke="#EBEBEB" stroke-width="0.9"/>
<line x1="191.6" x2="346" y1="198.33" y2="198.33" stroke="#F2F2F2" stroke-width="0.5"/>
<line x1="191.6" x2="346" y1="179.5" y2="179.5" stroke="#EBEBEB" stroke-width="0.9"/>
<line x1="233.9" x2="233.9" y1="174.3" y2="322.3" stroke="#EBEBEB" stroke-width="0.9"/>
<line x1="304" x2="304" y1="174.3" y2="322.3" stroke="#EBEBEB" stroke-width="0.9"/>
<path d="M236,187 L236,188.54 L236,190.08 L236.05,191.61 L236.15,193.15 L236.3,194.69 L236.55,196.23 L236.86,197.77 L237.24,199.3 L237.71,200.84 L238.35,202.38 L239.23,203.92 L240.22,205.46 L241.22,206.99 L242.13,208.53 L242.98,210.07 L243.82,211.61 L244.63,213.15 L245.41,214.68 L246.14,216.22 L246.86,217.76 L247.56,219.3 L248.2,220.84 L248.76,222.37 L249.24,223.91 L249.67,225.45 L250.07,226.99 L250.41,228.53 L250.71,230.06 L250.96,231.6 L251.18,233.14 L251.37,234.68 L251.57,236.22 L251.78,237.75 L252.02,239.29 L252.25,240.83 L252.44,242.37 L252.57,243.91 L252.69,245.44 L252.8,246.98 L252.87,248.52 L252.9,250.06 L252.82,251.59 L252.6,253.13 L252.3,254.67 L251.96,256.21 L251.65,257.75 L251.37,259.28 L251.07,260.82 L250.75,262.36 L250.4,263.9 L250,265.44 L249.54,266.97 L249.03,268.51 L248.48,270.05 L247.91,271.59 L247.34,273.13 L246.74,274.66 L246.11,276.2 L245.45,277.74 L244.76,279.28 L244,280.82 L243.17,282.35 L242.34,283.89 L241.55,285.43 L240.85,286.97 L240.21,288.51 L239.59,290.04 L239.03,291.58 L238.54,293.12 L238.13,294.66 L237.79,296.2 L237.47,297.73 L237.14,299.27 L236.76,300.81 L236.41,302.35 L236.17,303.89 L235.96,305.42 L235.8,306.96 L235.7,308.5 L232.1,308.5 L232,306.96 L231.84,305.42 L231.63,303.89 L231.39,302.35 L231.04,300.81 L230.66,299.27 L230.33,297.73 L230.01,296.2 L229.67,294.66 L229.26,293.12 L228.77,291.58 L228.21,290.04 L227.59,288.51 L226.95,286.97 L226.25,285.43 L225.46,283.89 L224.63,282.35 L223.8,280.82 L223.04,279.28 L222.35,277.74 L221.69,276.2 L221.06,274.66 L220.46,273.13 L219.89,271.59 L219.32,270.05 L218.77,268.51 L218.26,266.97 L217.8,265.44 L217.4,263.9 L217.05,262.36 L216.73,260.82 L216.43,259.28 L216.15,257.75 L215.84,256.21 L215.5,254.67 L215.2,253.13 L214.98,251.59 L214.9,250.06 L214.93,248.52 L215,246.98 L215.11,245.44 L215.23,243.91 L215.36,242.37 L215.55,240.83 L215.78,239.29 L216.02,237.75 L216.23,236.22 L216.43,234.68 L216.62,233.14 L216.84,231.6 L217.09,230.06 L217.39,228.53 L217.73,226.99 L218.13,225.45 L218.56,223.91 L219.04,222.37 L219.6,220.84 L220.24,219.3 L220.94,217.76 L221.66,216.22 L222.39,214.68 L223.17,213.15 L223.98,211.61 L224.82,210.07 L225.67,208.53 L226.58,206.99 L227.58,205.46 L228.57,203.92 L229.45,202.38 L230.09,200.84 L230.56,199.3 L230.94,197.77 L231.25,196.23 L231.5,194.69 L231.65,193.15 L231.75,191.61 L231.8,190.08 L231.8,188.54 L231.8,187 Z" fill="#CCE9CB" stroke="#333333" stroke-width="0.8"/>
<line x1="233.5" x2="233.5" y1="187" y2="303.5" stroke="#444" stroke-width="0.75"/>
<rect x="230.5" y="230.2" width="7" height="36.8" fill="#8ED08B" stroke="#333333" stroke-width="0.6"/>
<line x1="230.5" x2="237.5" y1="248.4" y2="248.4" stroke="#222" stroke-width="0.95"/>
<path d="M306,192.5 L306,194.06 L306.02,195.63 L306.17,197.19 L306.45,198.75 L306.78,200.32 L307.23,201.88 L307.85,203.44 L308.55,205.01 L309.25,206.57 L310.02,208.13 L310.83,209.7 L311.64,211.26 L312.4,212.82 L313.14,214.39 L313.87,215.95 L314.55,217.51 L315.18,219.08 L315.73,220.64 L316.24,222.2 L316.71,223.77 L317.16,225.33 L317.59,226.89 L318.01,228.46 L318.42,230.02 L318.8,231.58 L319.15,233.15 L319.43,234.71 L319.69,236.27 L320.05,237.84 L320.78,239.4 L321.94,240.96 L323.19,242.53 L324.25,244.09 L325.28,245.65 L326.24,247.22 L326.99,248.78 L327.61,250.34 L328.09,251.91 L328.17,253.47 L327.79,255.03 L327.15,256.59 L326.46,258.16 L325.77,259.72 L324.96,261.28 L324.09,262.85 L323.19,264.41 L322.29,265.97 L321.34,267.54 L320.36,269.1 L319.41,270.66 L318.52,272.23 L317.71,273.79 L316.93,275.35 L316.18,276.92 L315.41,278.48 L314.63,280.04 L313.85,281.61 L313.06,283.17 L312.24,284.73 L311.43,286.3 L310.66,287.86 L309.95,289.42 L309.28,290.99 L308.71,292.55 L308.21,294.11 L307.75,295.68 L307.34,297.24 L306.98,298.8 L306.67,300.37 L306.39,301.93 L306.14,303.49 L305.92,305.06 L305.73,306.62 L305.57,308.18 L305.42,309.75 L305.28,311.31 L305.15,312.87 L305.02,314.44 L304.9,316 L303.7,316 L303.58,314.44 L303.45,312.87 L303.32,311.31 L303.18,309.75 L303.03,308.18 L302.87,306.62 L302.68,305.06 L302.46,303.49 L302.21,301.93 L301.93,300.37 L301.62,298.8 L301.26,297.24 L300.85,295.68 L300.39,294.11 L299.89,292.55 L299.32,290.99 L298.65,289.42 L297.94,287.86 L297.17,286.3 L296.36,284.73 L295.54,283.17 L294.75,281.61 L293.97,280.04 L293.19,278.48 L292.42,276.92 L291.67,275.35 L290.89,273.79 L290.08,272.23 L289.19,270.66 L288.24,269.1 L287.26,267.54 L286.31,265.97 L285.41,264.41 L284.51,262.85 L283.64,261.28 L282.83,259.72 L282.14,258.16 L281.45,256.59 L280.81,255.03 L280.43,253.47 L280.51,251.91 L280.99,250.34 L281.61,248.78 L282.36,247.22 L283.32,245.65 L284.35,244.09 L285.41,242.53 L286.66,240.96 L287.82,239.4 L288.55,237.84 L288.91,236.27 L289.17,234.71 L289.45,233.15 L289.8,231.58 L290.18,230.02 L290.59,228.46 L291.01,226.89 L291.44,225.33 L291.89,223.77 L292.36,222.2 L292.87,220.64 L293.42,219.08 L294.05,217.51 L294.73,215.95 L295.46,214.39 L296.2,212.82 L296.96,211.26 L297.77,209.7 L298.58,208.13 L299.35,206.57 L300.05,205.01 L300.75,203.44 L301.37,201.88 L301.82,200.32 L302.15,198.75 L302.43,197.19 L302.58,195.63 L302.6,194.06 L302.6,192.5 Z" fill="#E3DFEE" stroke="#333333" stroke-width="0.8"/>
<line x1="304.5" x2="304.5" y1="192.5" y2="315.5" stroke="#444" stroke-width="0.75"/>
<rect x="300.5" y="235.4" width="7" height="31.7" fill="#C5B6DA" stroke="#333333" stroke-width="0.6"/>
<line x1="300.5" x2="307.5" y1="252.5" y2="252.5" stroke="#222" stroke-width="0.95"/>
<rect x="191.6" y="174.3" width="154.4" height="148" fill="none" stroke="#555" stroke-width="0.5"/>
<rect x="191.6" y="164.5" width="154.4" height="9.8" fill="#D9D9D9" stroke="#444" stroke-width="0.55"/>
<text x="268.8" y="170.95" font-size="5.4" fill="#1A1A1A" text-anchor="middle">TNC</text>
<line x1="189.8" x2="191.6" y1="292.48" y2="292.48" stroke="#333" stroke-width="0.55"/>
<text x="188.6" y="294.43" font-size="5.4" fill="#4D4D4D" text-anchor="end">3.6</text>
<line x1="189.8" x2="191.6" y1="254.82" y2="254.82" stroke="#333" stroke-width="0.55"/>
<text x="188.6" y="256.77" font-size="5.4" fill="#4D4D4D" text-anchor="end">3.8</text>
<line x1="189.8" x2="191.6" y1="217.16" y2="217.16" stroke="#333" stroke-width="0.55"/>
<text x="188.6" y="219.11" font-size="5.4" fill="#4D4D4D" text-anchor="end">4.0</text>
<line x1="189.8" x2="191.6" y1="179.5" y2="179.5" stroke="#333" stroke-width="0.55"/>
<text x="188.6" y="181.45" font-size="5.4" fill="#4D4D4D" text-anchor="end">4.2</text>
<path d="M233.9,184.6 V180.8 H304 V184.6" fill="none" stroke="#555" stroke-width="0.55"/>
<text x="268.95" y="179.7" font-size="5.3" fill="#111" text-anchor="middle">0.2</text>
<line x1="233.9" x2="233.9" y1="322.3" y2="324.1" stroke="#333" stroke-width="0.55"/>
<text x="233.9" y="329.5" font-size="5.8" fill="#4D4D4D" text-anchor="middle">Asthma</text>
<line x1="304" x2="304" y1="322.3" y2="324.1" stroke="#333" stroke-width="0.55"/>
<text x="304" y="329.5" font-size="5.8" fill="#4D4D4D" text-anchor="middle">Control</text>
<line x1="360.4" x2="514.8" y1="302.55" y2="302.55" stroke="#F2F2F2" stroke-width="0.5"/>
<line x1="360.4" x2="514.8" y1="274.5" y2="274.5" stroke="#EBEBEB" stroke-width="0.9"/>
<line x1="360.4" x2="514.8" y1="246.45" y2="246.45" stroke="#F2F2F2" stroke-width="0.5"/>
<line x1="360.4" x2="514.8" y1="218.4" y2="218.4" stroke="#EBEBEB" stroke-width="0.9"/>
<line x1="360.4" x2="514.8" y1="190.35" y2="190.35" stroke="#F2F2F2" stroke-width="0.5"/>
<line x1="402.7" x2="402.7" y1="174.3" y2="322.3" stroke="#EBEBEB" stroke-width="0.9"/>
<line x1="472.8" x2="472.8" y1="174.3" y2="322.3" stroke="#EBEBEB" stroke-width="0.9"/>
<path d="M403.7,218.3 L403.82,219.43 L403.98,220.56 L404.17,221.68 L404.42,222.81 L404.85,223.94 L405.57,225.07 L406.49,226.19 L407.46,227.32 L408.39,228.45 L409.23,229.58 L410.08,230.71 L410.94,231.83 L411.79,232.96 L412.63,234.09 L413.44,235.22 L414.23,236.35 L415.01,237.47 L415.77,238.6 L416.52,239.73 L417.24,240.86 L417.93,241.98 L418.59,243.11 L419.23,244.24 L419.86,245.37 L420.46,246.5 L421.05,247.62 L421.62,248.75 L422.21,249.88 L422.83,251.01 L423.43,252.14 L423.98,253.26 L424.44,254.39 L424.79,255.52 L425.09,256.65 L425.37,257.77 L425.58,258.9 L425.69,260.03 L425.63,261.16 L425.34,262.29 L424.87,263.41 L424.31,264.54 L423.76,265.67 L423.2,266.8 L422.54,267.93 L421.83,269.05 L421.07,270.18 L420.32,271.31 L419.6,272.44 L418.91,273.56 L418.22,274.69 L417.54,275.82 L416.86,276.95 L416.18,278.08 L415.52,279.2 L414.85,280.33 L414.2,281.46 L413.55,282.59 L412.91,283.72 L412.27,284.84 L411.63,285.97 L410.99,287.1 L410.36,288.23 L409.72,289.35 L409.1,290.48 L408.48,291.61 L407.88,292.74 L407.28,293.87 L406.66,294.99 L406.06,296.12 L405.53,297.25 L405.11,298.38 L404.79,299.51 L404.53,300.63 L404.3,301.76 L404.08,302.89 L403.86,304.02 L403.63,305.14 L403.41,306.27 L403.2,307.4 L401.2,307.4 L400.99,306.27 L400.77,305.14 L400.54,304.02 L400.32,302.89 L400.1,301.76 L399.87,300.63 L399.61,299.51 L399.29,298.38 L398.87,297.25 L398.34,296.12 L397.74,294.99 L397.12,293.87 L396.52,292.74 L395.92,291.61 L395.3,290.48 L394.68,289.35 L394.04,288.23 L393.41,287.1 L392.77,285.97 L392.13,284.84 L391.49,283.72 L390.85,282.59 L390.2,281.46 L389.55,280.33 L388.88,279.2 L388.22,278.08 L387.54,276.95 L386.86,275.82 L386.18,274.69 L385.49,273.56 L384.8,272.44 L384.08,271.31 L383.33,270.18 L382.57,269.05 L381.86,267.93 L381.2,266.8 L380.64,265.67 L380.09,264.54 L379.53,263.41 L379.06,262.29 L378.77,261.16 L378.71,260.03 L378.82,258.9 L379.03,257.77 L379.31,256.65 L379.61,255.52 L379.96,254.39 L380.42,253.26 L380.97,252.14 L381.57,251.01 L382.19,249.88 L382.78,248.75 L383.35,247.62 L383.94,246.5 L384.54,245.37 L385.17,244.24 L385.81,243.11 L386.47,241.98 L387.16,240.86 L387.88,239.73 L388.63,238.6 L389.39,237.47 L390.17,236.35 L390.96,235.22 L391.77,234.09 L392.61,232.96 L393.46,231.83 L394.32,230.71 L395.17,229.58 L396.01,228.45 L396.94,227.32 L397.91,226.19 L398.83,225.07 L399.55,223.94 L399.98,222.81 L400.23,221.68 L400.42,220.56 L400.58,219.43 L400.7,218.3 Z" fill="#CCE9CB" stroke="#333333" stroke-width="0.8"/>
<line x1="402.5" x2="402.5" y1="218.3" y2="306" stroke="#444" stroke-width="0.75"/>
<rect x="398.5" y="247.8" width="7" height="24.7" fill="#8ED08B" stroke="#333333" stroke-width="0.6"/>
<line x1="398.5" x2="405.5" y1="260.6" y2="260.6" stroke="#222" stroke-width="0.95"/>
<circle cx="402.2" cy="306.8" r="1.2" fill="#333"/>
<path d="M473.4,186.6 L473.19,188.24 L473.15,189.88 L473.15,191.51 L473.16,193.15 L473.17,194.79 L473.19,196.43 L473.21,198.07 L473.24,199.7 L473.47,201.34 L473.8,202.98 L473.89,204.62 L473.9,206.26 L473.9,207.89 L473.9,209.53 L473.94,211.17 L474.2,212.81 L474.59,214.45 L474.96,216.08 L475.3,217.72 L475.66,219.36 L476.06,221 L476.51,222.64 L477.04,224.27 L477.66,225.91 L478.35,227.55 L479.1,229.19 L479.95,230.83 L480.95,232.46 L482,234.1 L483.03,235.74 L484.01,237.38 L485.05,239.02 L486.03,240.65 L486.85,242.29 L487.43,243.93 L487.82,245.57 L488.24,247.21 L488.94,248.84 L490.29,250.48 L491.83,252.12 L493.01,253.76 L493.94,255.39 L494.73,257.03 L495.27,258.67 L495.61,260.31 L495.89,261.95 L496.1,263.58 L496.2,265.22 L496.11,266.86 L495.78,268.5 L495.29,270.14 L494.66,271.77 L493.53,273.41 L492.12,275.05 L490.75,276.69 L489.43,278.33 L488.06,279.96 L486.72,281.6 L485.47,283.24 L484.29,284.88 L483.13,286.52 L482.08,288.15 L481.2,289.79 L480.52,291.43 L479.96,293.07 L479.45,294.71 L478.95,296.34 L478.37,297.98 L477.66,299.62 L477.01,301.26 L476.49,302.9 L476.01,304.53 L475.55,306.17 L475.07,307.81 L474.63,309.45 L474.28,311.09 L474,312.72 L473.74,314.36 L473.5,316 L472.1,316 L471.86,314.36 L471.6,312.72 L471.32,311.09 L470.97,309.45 L470.53,307.81 L470.05,306.17 L469.59,304.53 L469.11,302.9 L468.59,301.26 L467.94,299.62 L467.23,297.98 L466.65,296.34 L466.15,294.71 L465.64,293.07 L465.08,291.43 L464.4,289.79 L463.52,288.15 L462.47,286.52 L461.31,284.88 L460.13,283.24 L458.88,281.6 L457.54,279.96 L456.17,278.33 L454.85,276.69 L453.48,275.05 L452.07,273.41 L450.94,271.77 L450.31,270.14 L449.82,268.5 L449.49,266.86 L449.4,265.22 L449.5,263.58 L449.71,261.95 L449.99,260.31 L450.33,258.67 L450.87,257.03 L451.66,255.39 L452.59,253.76 L453.77,252.12 L455.31,250.48 L456.66,248.84 L457.36,247.21 L457.78,245.57 L458.17,243.93 L458.75,242.29 L459.57,240.65 L460.55,239.02 L461.59,237.38 L462.57,235.74 L463.6,234.1 L464.65,232.46 L465.65,230.83 L466.5,229.19 L467.25,227.55 L467.94,225.91 L468.56,224.27 L469.09,222.64 L469.54,221 L469.94,219.36 L470.3,217.72 L470.64,216.08 L471.01,214.45 L471.4,212.81 L471.66,211.17 L471.7,209.53 L471.7,207.89 L471.7,206.26 L471.71,204.62 L471.8,202.98 L472.13,201.34 L472.36,199.7 L472.39,198.07 L472.41,196.43 L472.43,194.79 L472.44,193.15 L472.45,191.51 L472.45,189.88 L472.41,188.24 L472.2,186.6 Z" fill="#E3DFEE" stroke="#333333" stroke-width="0.8"/>
<line x1="472.5" x2="472.5" y1="207" y2="310" stroke="#444" stroke-width="0.75"/>
<rect x="469.5" y="249.4" width="7" height="26.2" fill="#C5B6DA" stroke="#333333" stroke-width="0.6"/>
<line x1="469.5" x2="476.5" y1="264" y2="264" stroke="#222" stroke-width="0.95"/>
<circle cx="472.8" cy="186.6" r="1.2" fill="#333"/>
<circle cx="472.8" cy="204.7" r="1.2" fill="#333"/>
<rect x="360.4" y="174.3" width="154.4" height="148" fill="none" stroke="#555" stroke-width="0.5"/>
<rect x="360.4" y="164.5" width="154.4" height="9.8" fill="#D9D9D9" stroke="#444" stroke-width="0.55"/>
<text x="437.6" y="170.95" font-size="5.4" fill="#1A1A1A" text-anchor="middle">TNFSF15</text>
<line x1="358.6" x2="360.4" y1="274.5" y2="274.5" stroke="#333" stroke-width="0.55"/>
<text x="357.4" y="276.45" font-size="5.4" fill="#4D4D4D" text-anchor="end">3.0</text>
<line x1="358.6" x2="360.4" y1="218.4" y2="218.4" stroke="#333" stroke-width="0.55"/>
<text x="357.4" y="220.35" font-size="5.4" fill="#4D4D4D" text-anchor="end">3.5</text>
<path d="M402.7,184.6 V180.8 H472.8 V184.6" fill="none" stroke="#555" stroke-width="0.55"/>
<text x="437.75" y="179.7" font-size="5.3" fill="#111" text-anchor="middle">0.2</text>
<line x1="402.7" x2="402.7" y1="322.3" y2="324.1" stroke="#333" stroke-width="0.55"/>
<text x="402.7" y="329.5" font-size="5.8" fill="#4D4D4D" text-anchor="middle">Asthma</text>
<line x1="472.8" x2="472.8" y1="322.3" y2="324.1" stroke="#333" stroke-width="0.55"/>
<text x="472.8" y="329.5" font-size="5.8" fill="#4D4D4D" text-anchor="middle">Control</text>
<line x1="528.2" x2="682.6" y1="304.25" y2="304.25" stroke="#F2F2F2" stroke-width="0.5"/>
<line x1="528.2" x2="682.6" y1="284.5" y2="284.5" stroke="#EBEBEB" stroke-width="0.9"/>
<line x1="528.2" x2="682.6" y1="264.75" y2="264.75" stroke="#F2F2F2" stroke-width="0.5"/>
<line x1="528.2" x2="682.6" y1="245" y2="245" stroke="#EBEBEB" stroke-width="0.9"/>
<line x1="528.2" x2="682.6" y1="225.25" y2="225.25" stroke="#F2F2F2" stroke-width="0.5"/>
<line x1="528.2" x2="682.6" y1="205.5" y2="205.5" stroke="#EBEBEB" stroke-width="0.9"/>
<line x1="528.2" x2="682.6" y1="185.75" y2="185.75" stroke="#F2F2F2" stroke-width="0.5"/>
<line x1="570.5" x2="570.5" y1="174.3" y2="322.3" stroke="#EBEBEB" stroke-width="0.9"/>
<line x1="640.6" x2="640.6" y1="174.3" y2="322.3" stroke="#EBEBEB" stroke-width="0.9"/>
<path d="M572.5,187 L572.58,188.64 L572.73,190.27 L572.99,191.91 L573.28,193.55 L573.65,195.18 L574.09,196.82 L574.62,198.46 L575.17,200.09 L575.68,201.73 L576.16,203.37 L576.64,205 L577.16,206.64 L577.76,208.28 L578.45,209.91 L579.22,211.55 L580.05,213.19 L580.94,214.82 L581.98,216.46 L583.11,218.1 L584.22,219.73 L585.19,221.37 L586.05,223.01 L586.85,224.64 L587.58,226.28 L588.21,227.92 L588.78,229.55 L589.32,231.19 L589.77,232.83 L590.07,234.46 L590.25,236.1 L590.39,237.74 L590.48,239.37 L590.48,241.01 L590.3,242.65 L589.99,244.28 L589.68,245.92 L589.35,247.56 L588.97,249.19 L588.55,250.83 L588.13,252.47 L587.72,254.11 L587.29,255.74 L586.84,257.38 L586.33,259.02 L585.73,260.65 L585.01,262.29 L584.23,263.93 L583.48,265.56 L582.78,267.2 L582.1,268.84 L581.44,270.47 L580.8,272.11 L580.18,273.75 L579.59,275.38 L579.01,277.02 L578.45,278.66 L577.9,280.29 L577.37,281.93 L576.85,283.57 L576.35,285.2 L575.87,286.84 L575.41,288.48 L574.95,290.11 L574.53,291.75 L574.15,293.39 L573.8,295.02 L573.46,296.66 L573.16,298.3 L572.91,299.93 L572.74,301.57 L572.6,303.21 L572.48,304.84 L572.38,306.48 L572.29,308.12 L572.23,309.75 L572.17,311.39 L572.1,313.03 L572.01,314.66 L571.9,316.3 L569.7,316.3 L569.59,314.66 L569.5,313.03 L569.43,311.39 L569.37,309.75 L569.31,308.12 L569.22,306.48 L569.12,304.84 L569,303.21 L568.86,301.57 L568.69,299.93 L568.44,298.3 L568.14,296.66 L567.8,295.02 L567.45,293.39 L567.07,291.75 L566.65,290.11 L566.19,288.48 L565.73,286.84 L565.25,285.2 L564.75,283.57 L564.23,281.93 L563.7,280.29 L563.15,278.66 L562.59,277.02 L562.01,275.38 L561.42,273.75 L560.8,272.11 L560.16,270.47 L559.5,268.84 L558.82,267.2 L558.12,265.56 L557.37,263.93 L556.59,262.29 L555.87,260.65 L555.27,259.02 L554.76,257.38 L554.31,255.74 L553.88,254.11 L553.47,252.47 L553.05,250.83 L552.63,249.19 L552.25,247.56 L551.92,245.92 L551.61,244.28 L551.3,242.65 L551.12,241.01 L551.12,239.37 L551.21,237.74 L551.35,236.1 L551.53,234.46 L551.83,232.83 L552.28,231.19 L552.82,229.55 L553.39,227.92 L554.02,226.28 L554.75,224.64 L555.55,223.01 L556.41,221.37 L557.38,219.73 L558.49,218.1 L559.62,216.46 L560.66,214.82 L561.55,213.19 L562.38,211.55 L563.15,209.91 L563.84,208.28 L564.44,206.64 L564.96,205 L565.44,203.37 L565.92,201.73 L566.43,200.09 L566.98,198.46 L567.51,196.82 L567.95,195.18 L568.32,193.55 L568.61,191.91 L568.87,190.27 L569.02,188.64 L569.1,187 Z" fill="#CCE9CB" stroke="#333333" stroke-width="0.8"/>
<line x1="570.5" x2="570.5" y1="187" y2="309" stroke="#444" stroke-width="0.75"/>
<rect x="567.5" y="229.1" width="7" height="32.3" fill="#8ED08B" stroke="#333333" stroke-width="0.6"/>
<line x1="567.5" x2="574.5" y1="243.5" y2="243.5" stroke="#222" stroke-width="0.95"/>
<circle cx="570.8" cy="315.7" r="1.2" fill="#333"/>
<path d="M642.25,188.4 L642.25,189.88 L642.35,191.36 L642.62,192.84 L642.98,194.32 L643.35,195.8 L643.78,197.28 L644.28,198.76 L644.84,200.24 L645.42,201.72 L646.05,203.2 L646.74,204.68 L647.45,206.16 L648.17,207.64 L648.89,209.12 L649.64,210.6 L650.41,212.08 L651.19,213.56 L652,215.04 L652.83,216.52 L653.69,217.99 L654.55,219.47 L655.41,220.95 L656.25,222.43 L657.09,223.91 L657.93,225.39 L658.77,226.87 L659.61,228.35 L660.49,229.83 L661.35,231.31 L662.15,232.79 L662.91,234.27 L663.67,235.75 L664.28,237.23 L664.59,238.71 L664.74,240.19 L664.83,241.67 L664.76,243.15 L664.02,244.63 L662.91,246.11 L661.83,247.59 L661.02,249.07 L660.25,250.55 L659.52,252.03 L658.86,253.51 L658.23,254.99 L657.65,256.47 L657.15,257.95 L656.79,259.43 L656.55,260.91 L656.33,262.39 L656.04,263.87 L655.53,265.35 L654.76,266.83 L653.85,268.31 L652.94,269.79 L651.97,271.27 L650.93,272.75 L649.93,274.23 L649.04,275.71 L648.23,277.18 L647.47,278.66 L646.73,280.14 L645.99,281.62 L645.35,283.1 L644.87,284.58 L644.43,286.06 L644.05,287.54 L643.73,289.02 L643.47,290.5 L643.25,291.98 L643.07,293.46 L642.92,294.94 L642.78,296.42 L642.65,297.9 L642.54,299.38 L642.44,300.86 L642.32,302.34 L642.15,303.82 L641.95,305.3 L639.75,305.3 L639.55,303.82 L639.38,302.34 L639.26,300.86 L639.16,299.38 L639.05,297.9 L638.92,296.42 L638.78,294.94 L638.63,293.46 L638.45,291.98 L638.23,290.5 L637.97,289.02 L637.65,287.54 L637.27,286.06 L636.83,284.58 L636.35,283.1 L635.71,281.62 L634.97,280.14 L634.23,278.66 L633.47,277.18 L632.66,275.71 L631.77,274.23 L630.77,272.75 L629.73,271.27 L628.76,269.79 L627.85,268.31 L626.94,266.83 L626.17,265.35 L625.66,263.87 L625.37,262.39 L625.15,260.91 L624.91,259.43 L624.55,257.95 L624.05,256.47 L623.47,254.99 L622.84,253.51 L622.18,252.03 L621.45,250.55 L620.68,249.07 L619.87,247.59 L618.79,246.11 L617.68,244.63 L616.94,243.15 L616.87,241.67 L616.96,240.19 L617.11,238.71 L617.42,237.23 L618.03,235.75 L618.79,234.27 L619.55,232.79 L620.35,231.31 L621.21,229.83 L622.09,228.35 L622.93,226.87 L623.77,225.39 L624.61,223.91 L625.45,222.43 L626.29,220.95 L627.15,219.47 L628.01,217.99 L628.87,216.52 L629.7,215.04 L630.51,213.56 L631.29,212.08 L632.06,210.6 L632.81,209.12 L633.53,207.64 L634.25,206.16 L634.96,204.68 L635.65,203.2 L636.28,201.72 L636.86,200.24 L637.42,198.76 L637.92,197.28 L638.35,195.8 L638.72,194.32 L639.08,192.84 L639.35,191.36 L639.45,189.88 L639.45,188.4 Z" fill="#E3DFEE" stroke="#333333" stroke-width="0.8"/>
<line x1="640.5" x2="640.5" y1="188.4" y2="305" stroke="#444" stroke-width="0.75"/>
<rect x="637.5" y="227.3" width="7" height="33.5" fill="#C5B6DA" stroke="#333333" stroke-width="0.6"/>
<line x1="637.5" x2="644.5" y1="243.1" y2="243.1" stroke="#222" stroke-width="0.95"/>
<rect x="528.2" y="174.3" width="154.4" height="148" fill="none" stroke="#555" stroke-width="0.5"/>
<rect x="528.2" y="164.5" width="154.4" height="9.8" fill="#D9D9D9" stroke="#444" stroke-width="0.55"/>
<text x="605.4" y="170.95" font-size="5.4" fill="#1A1A1A" text-anchor="middle">TNFSF8</text>
<line x1="526.4" x2="528.2" y1="284.5" y2="284.5" stroke="#333" stroke-width="0.55"/>
<text x="525.2" y="286.45" font-size="5.4" fill="#4D4D4D" text-anchor="end">6.0</text>
<line x1="526.4" x2="528.2" y1="245" y2="245" stroke="#333" stroke-width="0.55"/>
<text x="525.2" y="246.95" font-size="5.4" fill="#4D4D4D" text-anchor="end">6.4</text>
<line x1="526.4" x2="528.2" y1="205.5" y2="205.5" stroke="#333" stroke-width="0.55"/>
<text x="525.2" y="207.45" font-size="5.4" fill="#4D4D4D" text-anchor="end">6.8</text>
<path d="M570.5,184.6 V180.8 H640.6 V184.6" fill="none" stroke="#555" stroke-width="0.55"/>
<text x="605.55" y="179.7" font-size="5.3" fill="#111" text-anchor="middle">0.47</text>
<line x1="570.5" x2="570.5" y1="322.3" y2="324.1" stroke="#333" stroke-width="0.55"/>
<text x="570.5" y="329.5" font-size="5.8" fill="#4D4D4D" text-anchor="middle">Asthma</text>
<line x1="640.6" x2="640.6" y1="322.3" y2="324.1" stroke="#333" stroke-width="0.55"/>
<text x="640.6" y="329.5" font-size="5.8" fill="#4D4D4D" text-anchor="middle">Control</text>
<text transform="translate(7.1,166.9) rotate(-90)" font-size="6.6" fill="#000" text-anchor="middle">Expression levels</text>
</svg>
</body></html>
